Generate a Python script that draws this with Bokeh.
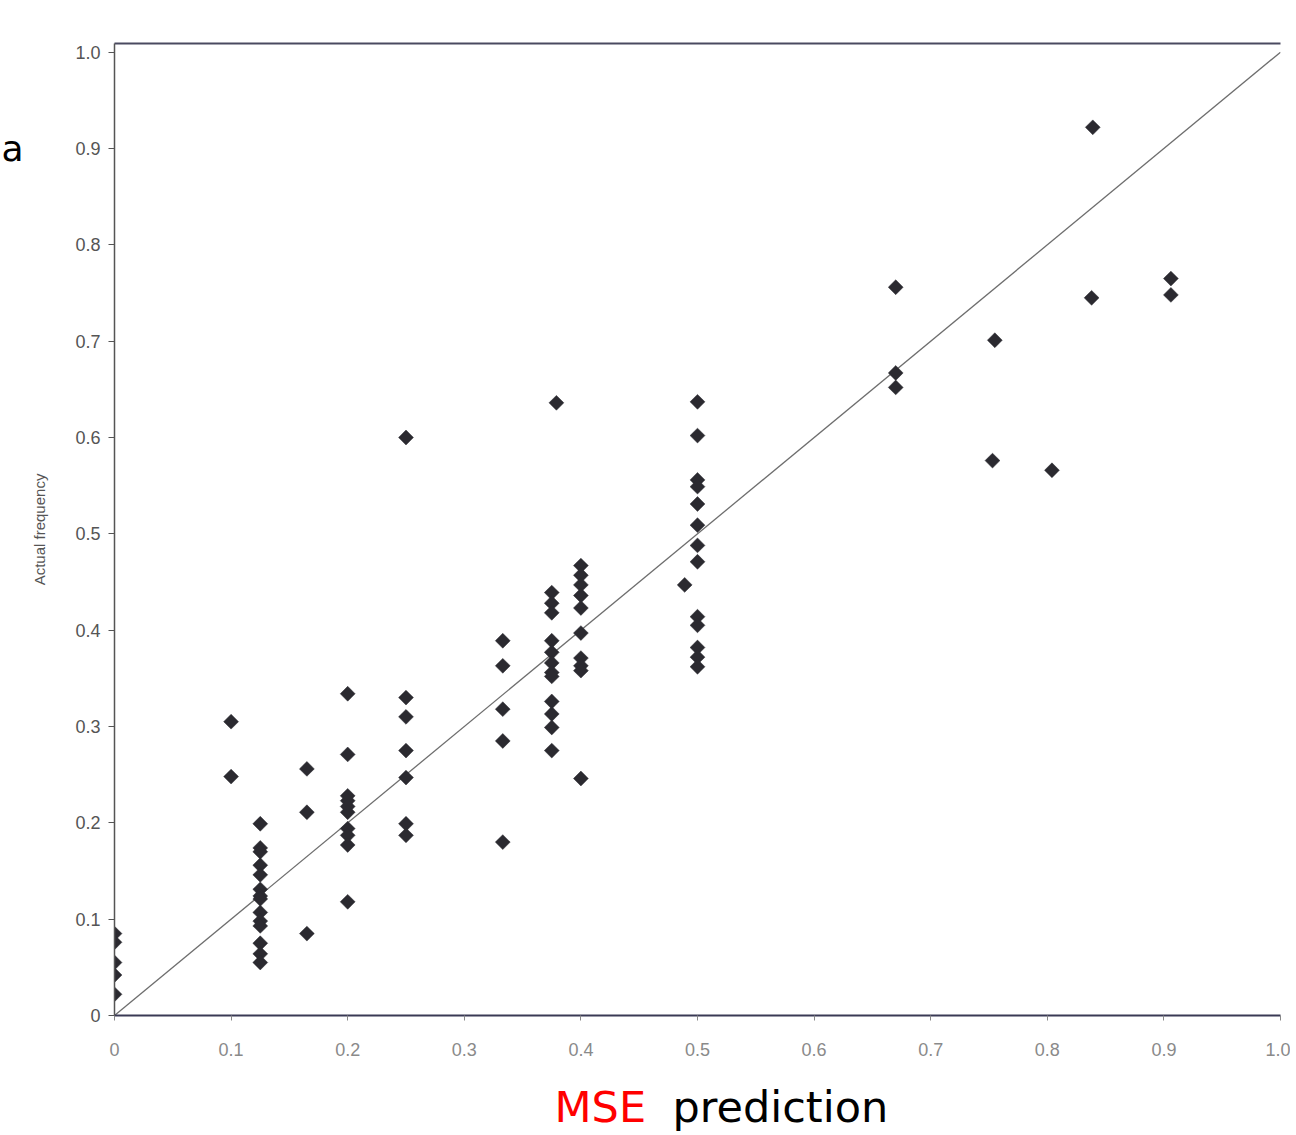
from bokeh.plotting import figure
from bokeh.models import FixedTicker, LinearAxis, Range1d
from bokeh.layouts import column, row
from bokeh.core.properties import value
from bokeh.embed import file_html
from bokeh.resources import INLINE

# ---- data ----
x_zero = [0.0, 0.0, 0.0, 0.0, 0.0]
y_zero = [0.085, 0.076, 0.055, 0.042, 0.022]

x_010 = [0.1, 0.1]
y_010 = [0.305, 0.248]

x_0125 = [0.125] * 14
y_0125 = [0.199, 0.174, 0.170, 0.156, 0.146, 0.131, 0.124, 0.121, 0.107, 0.098, 0.093, 0.075, 0.064, 0.055]

x_0167 = [0.165, 0.165, 0.165]
y_0167 = [0.256, 0.211, 0.085]

x_020 = [0.2] * 10
y_020 = [0.334, 0.271, 0.228, 0.223, 0.217, 0.211, 0.194, 0.187, 0.177, 0.118]

x_025 = [0.25] * 7
y_025 = [0.600, 0.330, 0.310, 0.275, 0.247, 0.199, 0.187]

x_0333 = [0.333] * 5
y_0333 = [0.389, 0.363, 0.318, 0.285, 0.180]

x_0375 = [0.375] * 12
y_0375 = [0.439, 0.428, 0.418, 0.389, 0.377, 0.366, 0.356, 0.352, 0.326, 0.313, 0.299, 0.275]

x_038 = [0.379]
y_038 = [0.636]

x_040 = [0.4] * 10
y_040 = [0.467, 0.457, 0.447, 0.436, 0.423, 0.397, 0.371, 0.363, 0.358, 0.246]

x_049 = [0.489]
y_049 = [0.447]

x_050 = [0.5] * 13
y_050 = [0.637, 0.602, 0.556, 0.549, 0.531, 0.509, 0.488, 0.471, 0.414, 0.405, 0.382, 0.372, 0.362]

x_high = [0.67, 0.67, 0.67, 0.755, 0.753, 0.804, 0.839, 0.838, 0.906, 0.906]
y_high = [0.756, 0.667, 0.652, 0.701, 0.576, 0.566, 0.922, 0.745, 0.765, 0.748]

diag_x = [0.0, 1.0]
diag_y = [0.0, 1.0]

tick_values = [0, 0.1, 0.2, 0.3, 0.4, 0.5, 0.6, 0.7, 0.8, 0.9, 1.0]
tick_labels = ["0", "0.1", "0.2", "0.3", "0.4", "0.5", "0.6", "0.7", "0.8", "0.9", "1.0"]

x_title_words = ["MSE", "prediction"]
x_title_colors = ["red", "black"]
corner_fragment = "a"

xs = x_zero + x_010 + x_0125 + x_0167 + x_020 + x_025 + x_0333 + x_0375 + x_038 + x_040 + x_049 + x_050 + x_high
ys = y_zero + y_010 + y_0125 + y_0167 + y_020 + y_025 + y_0333 + y_0375 + y_038 + y_040 + y_049 + y_050 + y_high


def bare(fig):
    fig.axis.visible = False
    fig.xgrid.grid_line_color = None
    fig.ygrid.grid_line_color = None
    fig.outline_line_color = None
    fig.background_fill_color = "white"
    fig.border_fill_color = "white"
    return fig


# ---- main plot ----
p = figure(width=1262, height=1070, output_backend="svg", toolbar_location=None,
           x_range=Range1d(0, 1.0), y_range=Range1d(0, 1.009),
           min_border_left=85, min_border_right=10, min_border_top=43, min_border_bottom=55)

p.background_fill_color = "white"
p.border_fill_color = "white"
p.outline_line_color = None
p.xgrid.grid_line_color = None
p.ygrid.grid_line_color = None

p.line(diag_x, diag_y, line_color="#6e6e6e", line_width=1.3)
p.scatter(xs, ys, marker="square", angle=0.785398, size=10.5,
          fill_color="#2b2a30", line_color="#2b2a30", line_width=0.5)

xa = p.xaxis[0]
xa.ticker = FixedTicker(ticks=tick_values)
xa.major_label_overrides = {v: l for v, l in zip(tick_values, tick_labels)}
xa.axis_line_color = "#3a3a55"
xa.axis_line_width = 2
xa.major_tick_line_color = "#888888"
xa.major_tick_out = 5
xa.major_tick_in = 0
xa.minor_tick_line_color = None
xa.major_label_text_color = "#8a8a8a"
xa.major_label_text_font = "Liberation Sans"
xa.major_label_text_font_size = "18px"
xa.major_label_standoff = 22

ya = p.yaxis[0]
ya.ticker = FixedTicker(ticks=tick_values)
ya.major_label_overrides = {v: l for v, l in zip(tick_values, tick_labels)}
ya.axis_line_color = "#555555"
ya.axis_line_width = 1.5
ya.major_tick_line_color = "#555555"
ya.major_tick_out = 6
ya.major_tick_in = 0
ya.minor_tick_line_color = None
ya.major_label_text_color = "#555555"
ya.major_label_text_font = "Liberation Sans"
ya.major_label_text_font_size = "18px"
ya.major_label_standoff = 8
ya.axis_label = "Actual frequency"
ya.axis_label_text_font = "Liberation Sans"
ya.axis_label_text_font_style = "normal"
ya.axis_label_text_font_size = "15px"
ya.axis_label_text_color = "#555555"
ya.axis_label_standoff = 24

top = LinearAxis(ticker=FixedTicker(ticks=[]), axis_line_color="#4a4a60", axis_line_width=2,
                 major_label_text_font_size="0px")
p.add_layout(top, "above")

# ---- narrow strip at the left holding the clipped fragment ----
pa = bare(figure(width=28, height=1070, output_backend="svg", toolbar_location=None,
                 x_range=Range1d(0, 28), y_range=Range1d(0, 1070),
                 min_border=0))
pa.text(x=[1], y=[954], text=[corner_fragment], text_color="black",
        text_font=value("DejaVu Sans"), text_font_size="36px", text_baseline="middle")

# ---- strip below holding the two-colour x title ----
pb = bare(figure(width=1290, height=63, output_backend="svg", toolbar_location=None,
                 x_range=Range1d(0, 1290), y_range=Range1d(0, 63),
                 min_border=0))
pb.text(x=[554, 672], y=[27, 27], text=x_title_words, text_color=x_title_colors,
        text_font=value("DejaVu Sans"), text_font_size="43px", text_baseline="middle")

layout = column(row(pa, p), pb)
open("out.html", "w").write(file_html(layout, INLINE))
